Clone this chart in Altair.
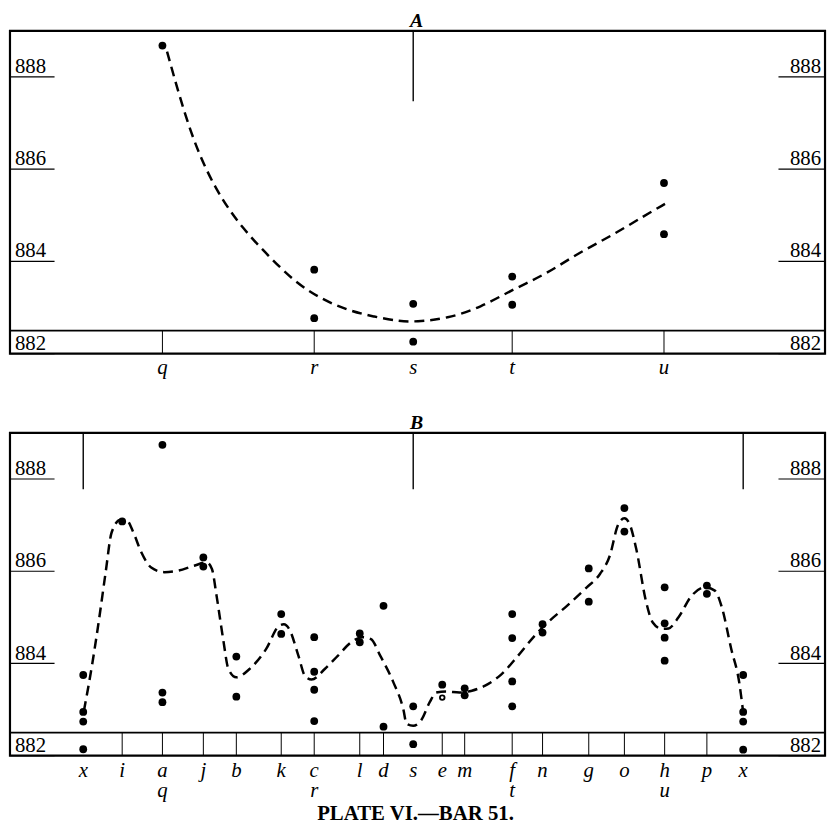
import altair as alt
import pandas as pd

# ---------------- data ----------------
# station positions along the bar (first "x" = 0, repeated "x" = 100)
top_names = ["q", "r", "s", "t", "u"]
top_pos = [12.0, 35.0, 50.0, 65.0, 88.0]

top_dot_pos = [12.0, 35.0, 35.0, 50.0, 50.0, 65.0, 65.0, 88.0, 88.0]
top_dot_val = [888.68, 883.82, 882.77, 883.08, 882.26, 883.67, 883.06, 885.70, 884.59]

top_curve_pos = [12.7, 16.3, 20.2, 24.2, 28.2, 32.1, 36.1, 40.1, 44.0, 48.0, 50.3,
                 55.2, 60.2, 65.2, 70.1, 75.1, 80.0, 84.9, 88.2]
top_curve_val = [888.55, 886.7, 885.5, 884.7, 884.1, 883.55, 883.18, 882.94, 882.8, 882.7, 882.69,
                 882.76, 883.0, 883.4, 883.72, 884.19, 884.55, 884.98, 885.25]
top_strip_ticks = [12.0, 35.0, 65.0, 88.0]
top_markers = [50.0]

bot_names = ["x", "i", "a", "j", "b", "k", "c", "l", "d", "s", "e", "m", "f", "n", "g", "o", "h", "p", "x"]
bot_names2 = ["", "", "q", "", "", "", "r", "", "", "", "", "", "t", "", "", "", "u", "", ""]
bot_pos = [0.0, 5.9, 12.0, 18.2, 23.2, 30.0, 35.0, 41.9, 45.5, 50.0, 54.4, 57.8, 65.0, 69.6,
           76.6, 82.0, 88.1, 94.5, 100.0]

bot_dot_pos = [0.0, 0.0, 0.0, 0.0,
               5.9,
               12.0, 12.0, 12.0,
               18.2, 18.2,
               23.2, 23.2,
               30.0, 30.0,
               35.0, 35.0, 35.0, 35.0,
               41.9, 41.9,
               45.5, 45.5,
               50.0, 50.0,
               54.4,
               57.8, 57.8,
               65.0, 65.0, 65.0, 65.0,
               69.6, 69.6,
               76.6, 76.6,
               82.0, 82.0,
               88.1, 88.1, 88.1, 88.1,
               94.5, 94.5,
               100.0, 100.0, 100.0, 100.0]
bot_dot_val = [883.75, 882.95, 882.74, 882.14,
               887.08,
               888.74, 883.37, 883.16,
               886.30, 886.10,
               884.15, 883.28,
               885.07, 884.64,
               884.57, 883.82, 883.43, 882.75,
               884.65, 884.46,
               885.25, 882.63,
               883.07, 882.25,
               883.54,
               883.46, 883.31,
               885.07, 884.55, 883.61, 883.07,
               884.85, 884.67,
               886.06, 885.34,
               887.37, 886.86,
               885.65, 884.87, 884.56, 884.06,
               885.69, 885.51,
               883.75, 882.95, 882.74, 882.13]
bot_open_pos = [54.4]
bot_open_val = [883.26]

bot_curve_pos = [0.1, 1.4, 2.4, 3.4, 4.3, 5.6, 6.6, 7.6, 8.8, 10.3, 12.3, 14.3, 16.8, 18.7, 19.5,
                 20.2, 21.2, 22.0, 23.2, 25.2, 27.7, 29.7, 30.4, 31.2, 32.6, 33.6, 34.6, 36.6,
                 38.6, 40.6, 42.3, 43.6, 45.0, 47.0, 48.5, 49.0, 50.0, 51.3, 52.5, 53.5, 55.0,
                 57.0, 58.9, 60.9, 63.4, 65.9, 68.4, 70.4, 73.3, 76.3, 78.3, 79.8, 81.0, 82.0,
                 82.8, 83.8, 85.3, 86.3, 87.7, 88.7, 90.2, 92.2, 94.2, 95.7, 96.7, 98.2, 99.4, 100.0]
bot_curve_val = [882.97, 884.02, 884.96, 885.98, 886.84, 887.11, 887.10, 886.84, 886.41, 886.08,
                 885.98, 886.01, 886.12, 886.19, 886.05, 885.47, 884.53, 883.88, 883.70, 883.88,
                 884.31, 884.82, 884.85, 884.75, 884.17, 883.73, 883.65, 883.88, 884.17, 884.46,
                 884.57, 884.53, 884.17, 883.59, 883.01, 882.69, 882.65, 882.79, 883.16, 883.37,
                 883.39, 883.37, 883.41, 883.52, 883.77, 884.17, 884.60, 884.89, 885.25, 885.65,
                 885.94, 886.34, 886.99, 887.15, 887.02, 886.48, 885.33, 884.89, 884.75, 884.76,
                 885.0, 885.47, 885.65, 885.58, 885.25, 884.31, 883.59, 882.94]
bot_strip_ticks = [5.9, 12.0, 18.2, 23.2, 30.0, 35.0, 41.9, 45.5, 54.4, 57.8, 65.0, 69.6,
                   76.6, 82.0, 88.1, 94.5]
bot_markers = [0.0, 50.0, 100.0]

y_ticks = [882, 884, 886, 888]
y_labels = ["882", "884", "886", "888"]
strip_top = 882.5
marker_low_top = 887.47
marker_low_bot = 887.78
caption = "PLATE VI.—BAR 51."

# ---------------- layout ----------------
W = 823
H = 326
X_DOM = [-11.1, 112.4]
Y_DOM = [882, 889]
SERIF = "Liberation Serif, DejaVu Serif, serif"

xs = alt.Scale(domain=X_DOM, nice=False, zero=False)
ys = alt.Scale(domain=Y_DOM, nice=False, zero=False)


def X(field="pos"):
    return alt.X(f"{field}:Q", scale=xs, axis=None)


def Y(field="val"):
    return alt.Y(f"{field}:Q", scale=ys, axis=None)


def panel(title, names, names2, pos, dot_pos, dot_val, open_pos, open_val,
          curve_pos, curve_val, strip_ticks, markers, marker_low, interp, cap=None):
    st = pd.DataFrame({"pos": pos, "name": names, "name2": names2})
    dots = pd.DataFrame({"pos": dot_pos, "val": dot_val})
    curve = pd.DataFrame({"pos": curve_pos, "val": curve_val})
    ticks = pd.DataFrame({"pos": strip_ticks, "lo": [882] * len(strip_ticks),
                          "hi": [strip_top] * len(strip_ticks)})
    mk = pd.DataFrame({"pos": markers, "lo": [marker_low] * len(markers),
                       "hi": [Y_DOM[1]] * len(markers)})
    yt = pd.DataFrame({"val": y_ticks, "label": y_labels})
    strip = pd.DataFrame({"val": [strip_top]})

    layers = []
    layers.append(alt.Chart(strip).mark_rule(color="black", strokeWidth=1.8).encode(
        y=Y(), x=alt.value(0), x2=alt.value(W)))
    layers.append(alt.Chart(ticks).mark_rule(color="black", strokeWidth=1).encode(
        x=X(), y=Y("lo"), y2="hi:Q"))
    layers.append(alt.Chart(mk).mark_rule(color="black", strokeWidth=1.4).encode(
        x=X(), y=Y("lo"), y2="hi:Q"))
    layers.append(alt.Chart(yt).mark_rule(color="black", strokeWidth=1.2).encode(
        y=Y(), x=alt.value(0), x2=alt.value(45)))
    layers.append(alt.Chart(yt).mark_rule(color="black", strokeWidth=1.2).encode(
        y=Y(), x=alt.value(W - 47), x2=alt.value(W)))
    layers.append(alt.Chart(yt).mark_text(font=SERIF, fontSize=21, align="left",
                                          baseline="bottom", dy=0, color="black").encode(
        y=Y(), x=alt.value(5), text="label:N"))
    layers.append(alt.Chart(yt).mark_text(font=SERIF, fontSize=21, align="right",
                                          baseline="bottom", dy=0, color="black").encode(
        y=Y(), x=alt.value(W - 4), text="label:N"))
    layers.append(alt.Chart(curve).mark_line(color="black", strokeWidth=2.5,
                                             strokeDash=[10, 6], interpolate=interp).encode(
        x=X(), y=Y()))
    layers.append(alt.Chart(dots).mark_circle(color="black", size=62, opacity=1).encode(
        x=X(), y=Y()))
    if open_pos:
        op = pd.DataFrame({"pos": open_pos, "val": open_val})
        layers.append(alt.Chart(op).mark_point(shape="circle", fill="white", stroke="black",
                                               strokeWidth=1.8, size=22, opacity=1,
                                               filled=False).encode(x=X(), y=Y()))
    layers.append(alt.Chart(st).mark_text(font=SERIF, fontSize=21, fontStyle="italic",
                                          baseline="middle", color="black").encode(
        x=X(), y=alt.value(H + 15), text="name:N"))
    if any(names2):
        layers.append(alt.Chart(st).mark_text(font=SERIF, fontSize=21, fontStyle="italic",
                                              baseline="middle", color="black").encode(
            x=X(), y=alt.value(H + 36), text="name2:N"))
    tt = pd.DataFrame({"t": [title]})
    layers.append(alt.Chart(tt).mark_text(font=SERIF, fontSize=20, fontStyle="italic",
                                          fontWeight="bold", baseline="alphabetic",
                                          color="black").encode(
        x=alt.value(W / 2 - 1), y=alt.value(-4), text="t:N"))
    if cap:
        cp = pd.DataFrame({"t": [cap]})
        layers.append(alt.Chart(cp).mark_text(font=SERIF, fontSize=21,
                                              fontWeight="bold", baseline="middle",
                                              color="black").encode(
            x=alt.value(W / 2 - 2), y=alt.value(H + 59), text="t:N"))
    return alt.layer(*layers).properties(width=W, height=H)


top = panel("A", top_names, [""] * len(top_names), top_pos, top_dot_pos, top_dot_val, [], [],
            top_curve_pos, top_curve_val, top_strip_ticks, top_markers, marker_low_top, "basis")
bottom = panel("B", bot_names, bot_names2, bot_pos, bot_dot_pos, bot_dot_val,
               bot_open_pos, bot_open_val, bot_curve_pos, bot_curve_val, bot_strip_ticks,
               bot_markers, marker_low_bot, "monotone", cap=caption)

chart = alt.vconcat(top, bottom, spacing=31).properties(
    padding={"top": -3, "left": 0, "right": 0, "bottom": 0}, background="white"
).configure_view(stroke="black", strokeWidth=2.2)

chart.save("out.html", embed_options={"renderer": "svg", "actions": False})
